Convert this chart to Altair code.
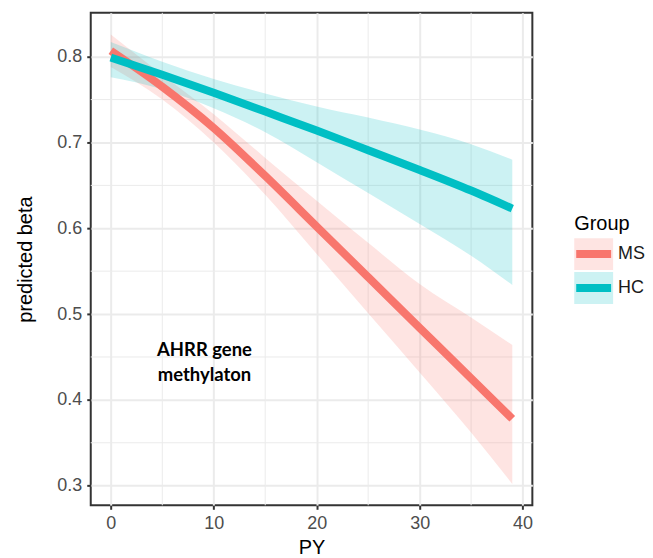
import altair as alt
import pandas as pd

# ---- data ----
PY = [0, 5, 10, 15, 20, 25, 30, 35, 39]
MS_fit = [0.807, 0.765, 0.717, 0.661, 0.602, 0.543, 0.484, 0.425, 0.378]
MS_lo = [0.788, 0.750, 0.700, 0.639, 0.570, 0.501, 0.432, 0.362, 0.302]
MS_hi = [0.826, 0.779, 0.733, 0.682, 0.632, 0.583, 0.535, 0.496, 0.464]
HC_fit = [0.799, 0.779, 0.758, 0.736, 0.714, 0.691, 0.668, 0.644, 0.623]
HC_lo = [0.776, 0.762, 0.740, 0.712, 0.677, 0.641, 0.605, 0.568, 0.534]
HC_hi = [0.817, 0.794, 0.774, 0.757, 0.742, 0.729, 0.715, 0.698, 0.680]

groups = ["MS", "HC"]
group_colors = ["#F8766D", "#00BFC4"]

x_ticks = [0, 10, 20, 30, 40]
y_ticks = [0.3, 0.4, 0.5, 0.6, 0.7, 0.8]
x_minor = [5, 15, 25, 35]
y_minor = [0.35, 0.45, 0.55, 0.65, 0.75]

note_lines = ["AHRR gene", "methylaton"]
note_x = [9.1]
note_y = [0.458]

# ---- tables ----
rows = []
for g, fit, lo, hi in [("MS", MS_fit, MS_lo, MS_hi), ("HC", HC_fit, HC_lo, HC_hi)]:
    for p, f, l, h in zip(PY, fit, lo, hi):
        rows.append({"PY": p, "fit": f, "lo": l, "hi": h, "Group": g})
df = pd.DataFrame(rows)

xscale = alt.Scale(domain=[-1.95, 40.95], nice=False, zero=False)
yscale = alt.Scale(domain=[0.2771, 0.8511], nice=False, zero=False)
cscale = alt.Scale(domain=groups, range=group_colors)

xaxis = alt.Axis(values=x_ticks, format="d", title="PY", titlePadding=5)
yaxis = alt.Axis(values=y_ticks, format=".1f", title="predicted beta", titlePadding=21)

minor_x = alt.Chart(pd.DataFrame({"PY": x_minor})).mark_rule(
    color="#EBEBEB", strokeWidth=1
).encode(x=alt.X("PY:Q", scale=xscale, axis=xaxis))

minor_y = alt.Chart(pd.DataFrame({"fit": y_minor})).mark_rule(
    color="#EBEBEB", strokeWidth=1
).encode(y=alt.Y("fit:Q", scale=yscale, axis=yaxis))

base = alt.Chart(df)

bands = base.mark_area(opacity=0.2, interpolate="monotone").encode(
    x=alt.X("PY:Q", scale=xscale, axis=xaxis),
    y=alt.Y("lo:Q", scale=yscale, axis=yaxis),
    y2="hi:Q",
    color=alt.Color("Group:N", scale=cscale, legend=None),
    detail="Group:N",
)

lines = base.mark_line(strokeWidth=8, interpolate="monotone").encode(
    x=alt.X("PY:Q", scale=xscale, axis=xaxis),
    y=alt.Y("fit:Q", scale=yscale, axis=yaxis),
    color=alt.Color("Group:N", scale=cscale, legend=None),
    order=alt.Order("PY:Q"),
)

note = alt.Chart(pd.DataFrame({"PY": note_x, "fit": note_y, "t": [note_lines]})).mark_text(
    font="Lato", fontWeight="bold", fontSize=18.5, lineHeight=25,
    align="center", baseline="middle", color="#000000"
).encode(x=alt.X("PY:Q", scale=xscale), y=alt.Y("fit:Q", scale=yscale), text="t")

# ---- legend (drawn by hand to mimic ggplot keys) ----
one = pd.DataFrame({"a": [0]})
leg_layers = [
    alt.Chart(one).mark_text(
        text="Group", font="Liberation Sans", fontSize=20, align="left",
        baseline="alphabetic", color="#000000"
    ).encode(x=alt.value(485), y=alt.value(218))
]
for i, (g, c) in enumerate(zip(groups, group_colors)):
    top = 226 + i * 34
    leg_layers.append(
        alt.Chart(one).mark_rect(color=c, opacity=0.2).encode(
            x=alt.value(485), x2=alt.value(524), y=alt.value(top), y2=alt.value(top + 32))
    )
    leg_layers.append(
        alt.Chart(one).mark_rule(color=c, strokeWidth=8).encode(
            x=alt.value(487), x2=alt.value(522), y=alt.value(top + 16))
    )
    leg_layers.append(
        alt.Chart(one).mark_text(
            text=g, font="Liberation Sans", fontSize=18, align="left",
            baseline="middle", color="#1A1A1A"
        ).encode(x=alt.value(529), y=alt.value(top + 16))
    )

chart = alt.layer(minor_x, minor_y, bands, lines, note, *leg_layers).properties(
    width=443, height=494,
    padding={"left": 7, "top": 3, "right": 0, "bottom": 0},
).configure_view(
    stroke="#333333", strokeWidth=2
).configure_axis(
    domain=False,
    ticks=True, tickColor="#333333", tickWidth=2, tickSize=4,
    labelColor="#4D4D4D", labelFont="Liberation Sans", labelFontSize=18, labelPadding=5,
    titleFont="Liberation Sans", titleFontSize=20, titleFontWeight="normal", titleColor="#000000",
    grid=True, gridColor="#EBEBEB", gridWidth=2,
)

chart.save("out.html", embed_options={"renderer": "svg", "actions": False})
